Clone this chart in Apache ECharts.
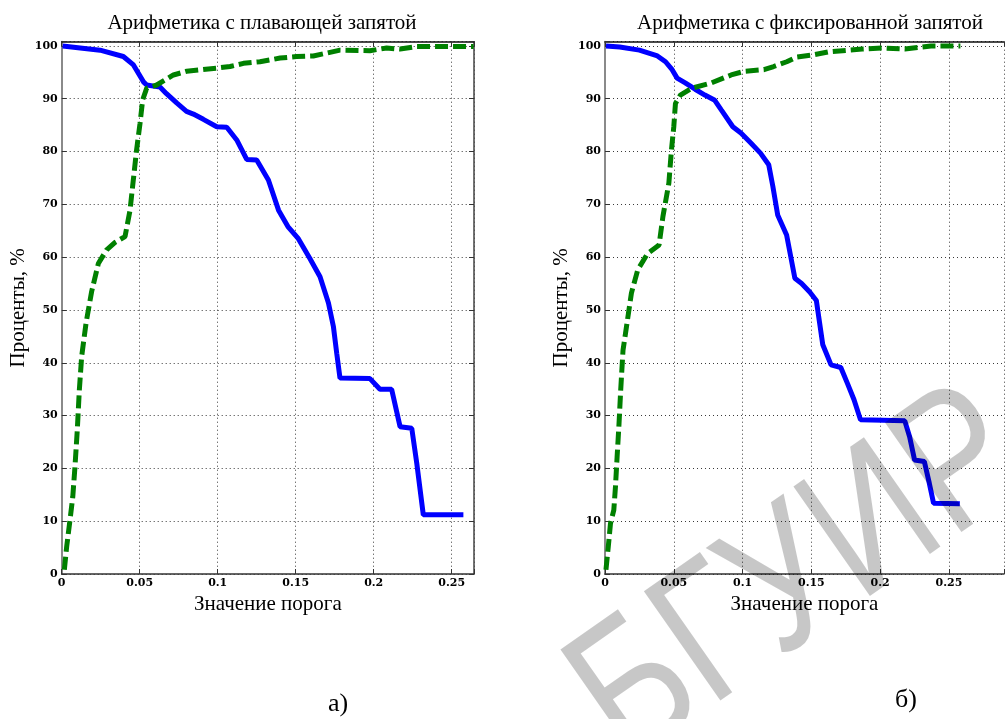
<!DOCTYPE html>
<html>
<head>
<meta charset="utf-8">
<script src="https://cdn.jsdelivr.net/npm/echarts@6/dist/echarts.min.js"></script>
<style>
html,body{margin:0;padding:0;background:#fff;}
#c{width:1007px;height:719px;}
</style>
</head>
<body>
<div id="c"></div>
<script>
// ---- Data ----
const titleA = 'Арифметика с плавающей запятой';
const titleB = 'Арифметика с фиксированной запятой';
const xName = 'Значение порога';
const yName = 'Проценты, %';
const panelA = 'а)';
const panelB = 'б)';
const watermark = 'БГУИР';

// (а) floating point — blue solid
const floatBlueX = [0.0006,0.0246,0.0395,0.046,0.0524,0.0545,0.063,0.067,0.0737,0.080,0.0844,0.0908,0.0994,0.1058,0.1122,0.1186,0.125,0.1325,0.139,0.145,0.1517,0.159,0.1656,0.171,0.1742,0.1763,0.1784,0.1976,0.204,0.2115,0.2169,0.2244,0.2276,0.2318,0.2575];
const floatBlueY = [100,99.2,98,96.4,93.2,92.6,92.2,91,89.2,87.6,87.1,86.1,84.7,84.6,82.2,78.5,78.4,74.6,68.9,65.8,63.5,59.8,56.3,51.3,46.8,41.8,37.1,37.0,35.0,35.0,27.9,27.6,21.0,11.2,11.2];
// (а) floating point — green dashed
const floatGreenX = [0.0017,0.0032,0.0053,0.0071,0.0085,0.010,0.0113,0.0128,0.0156,0.0192,0.0235,0.0288,0.0342,0.0406,0.0438,0.0459,0.048,0.0502,0.0519,0.0545,0.0609,0.0716,0.0801,0.0994,0.1079,0.1165,0.1271,0.14,0.1506,0.1613,0.1677,0.1784,0.1976,0.2083,0.2169,0.2276,0.2640];
const floatGreenY = [0.8,5.2,10.2,14.6,20.3,27.3,34.8,41.2,47.5,53.5,58.8,61.4,62.8,63.9,68.9,74.6,80.3,85.3,89.8,92,92.6,94.5,95.2,95.8,96.1,96.7,97,97.7,98,98.1,98.5,99.2,99.1,99.6,99.4,99.9,99.9];

// (б) fixed point — blue solid
const fixedBlueX = [0.0007,0.0107,0.025,0.0381,0.044,0.0488,0.0524,0.0583,0.0655,0.0726,0.0798,0.0845,0.0929,0.0988,0.106,0.113,0.119,0.122,0.1255,0.132,0.135,0.138,0.1429,0.1488,0.1536,0.156,0.1583,0.1643,0.1714,0.1762,0.181,0.1857,0.2179,0.2214,0.225,0.2321,0.2357,0.2388,0.2579];
const fixedBlueY = [100,99.8,99.2,98.1,97,95.5,93.9,93,91.8,90.7,89.7,87.9,84.7,83.5,81.6,79.7,77.5,73.4,68,64.2,60.1,56,55,53.4,51.8,47.5,43.4,39.6,39.1,36.1,33,29.2,29.0,26,21.6,21.3,17.2,13.4,13.3];
// (б) fixed point — green dashed
const fixedGreenX = [0.0007,0.0024,0.004,0.0064,0.0076,0.0088,0.0102,0.0114,0.0131,0.016,0.0192,0.0238,0.031,0.0393,0.0421,0.0464,0.0483,0.05,0.0512,0.0548,0.0631,0.0774,0.0917,0.1012,0.1155,0.1226,0.1321,0.1393,0.1512,0.1631,0.1774,0.1869,0.2012,0.2179,0.2274,0.2369,0.2583];
const fixedGreenY = [0.8,5.2,9.6,12.1,16.5,22.2,28.5,34.8,42.4,47.5,53.2,57.6,60.7,62.3,67.7,74,80.3,84.7,89.1,90.7,92,93,94.5,95.2,95.5,96.1,97,97.9,98.3,98.9,99.2,99.4,99.6,99.4,99.7,100,100];

const yTicks = [0,10,20,30,40,50,60,70,80,90,100];
const xTicks = [0,0.05,0.1,0.15,0.2,0.25];

// ---- Chart ----
const zip = (xs, ys) => xs.map((x, i) => [x, ys[i]]);
const serif = '"Liberation Serif", "Times New Roman", serif';
const tickFont = { fontFamily: '"DejaVu Serif", serif', fontWeight: 'bold', fontSize: 11, color: '#000' };
const gridLine = { show: true, lineStyle: { color: '#3a3a3a', width: 1, type: [1, 3] } };
const isTick = (v, arr) => arr.some(t => Math.abs(t - v) < 1e-9);

function xAxisMain(gi, max) {
  return {
    type: 'value', gridIndex: gi, min: 0, max: max, interval: 0.05, position: 'bottom',
    name: xName, nameLocation: 'middle', nameGap: 20,
    nameTextStyle: { fontFamily: serif, fontSize: 21, color: '#000' },
    axisLine: { show: true, onZero: false, lineStyle: { color: '#333', width: 1.5 } },
    axisTick: { show: true, inside: true, length: 5, lineStyle: { color: '#333' } },
    axisLabel: Object.assign({ margin: 4, formatter: v => isTick(v, xTicks) ? String(+v.toFixed(2)) : '' }, tickFont),
    splitLine: gridLine
  };
}
function xAxisTop(gi, max) {
  return {
    type: 'value', gridIndex: gi, min: 0, max: max, interval: 0.05, position: 'top',
    axisLine: { show: true, onZero: false, lineStyle: { color: '#111', width: 1.5 } },
    axisTick: { show: true, inside: true, length: 5, lineStyle: { color: '#333' } },
    axisLabel: { show: false }, splitLine: { show: false }
  };
}
function yAxisMain(gi) {
  return {
    type: 'value', gridIndex: gi, min: 0, max: 100.8, interval: 10, position: 'left',
    name: yName, nameLocation: 'middle', nameGap: 33,
    nameTextStyle: { fontFamily: serif, fontSize: 21, color: '#000' },
    axisLine: { show: true, onZero: false, lineStyle: { color: '#8a8a8a', width: 2 } },
    axisTick: { show: true, inside: true, length: 5, lineStyle: { color: '#333' } },
    axisLabel: Object.assign({ margin: 4, formatter: v => isTick(v, yTicks) ? String(v) : '' }, tickFont),
    splitLine: gridLine
  };
}
function yAxisRight(gi) {
  return {
    type: 'value', gridIndex: gi, min: 0, max: 100.8, interval: 10, position: 'right',
    axisLine: { show: true, onZero: false, lineStyle: { color: '#444', width: 1.5 } },
    axisTick: { show: true, inside: true, length: 5, lineStyle: { color: '#333' } },
    axisLabel: { show: false }, splitLine: { show: false }
  };
}

const chart = echarts.init(document.getElementById('c'), null, { renderer: 'canvas' });
chart.setOption({
  backgroundColor: '#fff',
  animation: false,
  grid: [
    { left: 61.7, right: 533, top: 41.7, bottom: 145 },
    { left: 605, right: -4, top: 41.7, bottom: 145 }
  ],
  xAxis: [xAxisMain(0, 0.2643), xAxisMain(1, 0.29), xAxisTop(0, 0.2643), xAxisTop(1, 0.29)],
  yAxis: [yAxisMain(0), yAxisMain(1), yAxisRight(0)],
  series: [
    { type: 'line', xAxisIndex: 0, yAxisIndex: 0, data: zip(floatBlueX, floatBlueY), showSymbol: false,
      lineStyle: { color: '#0000ff', width: 5 }, z: 3 },
    { type: 'line', xAxisIndex: 0, yAxisIndex: 0, data: zip(floatGreenX, floatGreenY), showSymbol: false,
      lineStyle: { color: '#008000', width: 5, type: [13, 5] }, z: 4 },
    { type: 'line', xAxisIndex: 1, yAxisIndex: 1, data: zip(fixedBlueX, fixedBlueY), showSymbol: false,
      lineStyle: { color: '#0000ff', width: 5 }, z: 3 },
    { type: 'line', xAxisIndex: 1, yAxisIndex: 1, data: zip(fixedGreenX, fixedGreenY), showSymbol: false,
      lineStyle: { color: '#008000', width: 5, type: [13, 5] }, z: 4 }
  ],
  graphic: [
    { type: 'text', x: 262, y: 23, z: 10, style: { text: titleA, font: '21px ' + serif, fill: '#000', textAlign: 'center', textVerticalAlign: 'middle' } },
    { type: 'text', x: 810, y: 23, z: 10, style: { text: titleB, font: '21px ' + serif, fill: '#000', textAlign: 'center', textVerticalAlign: 'middle' } },
    { type: 'text', x: 338, y: 704, z: 10, style: { text: panelA, font: '26px ' + serif, fill: '#000', textAlign: 'center', textVerticalAlign: 'middle' } },
    { type: 'text', x: 906, y: 700, z: 10, style: { text: panelB, font: '26px ' + serif, fill: '#000', textAlign: 'center', textVerticalAlign: 'middle' } },
    { type: 'text', x: 1005, y: 436, rotation: 35 * Math.PI / 180, scaleX: 0.8, z: 100,
      style: { text: watermark, font: '194px "Liberation Sans", Arial, sans-serif', fill: 'rgba(0,0,0,0.22)', textAlign: 'right', textVerticalAlign: 'middle' } }
  ]
});
</script>
</body>
</html>
